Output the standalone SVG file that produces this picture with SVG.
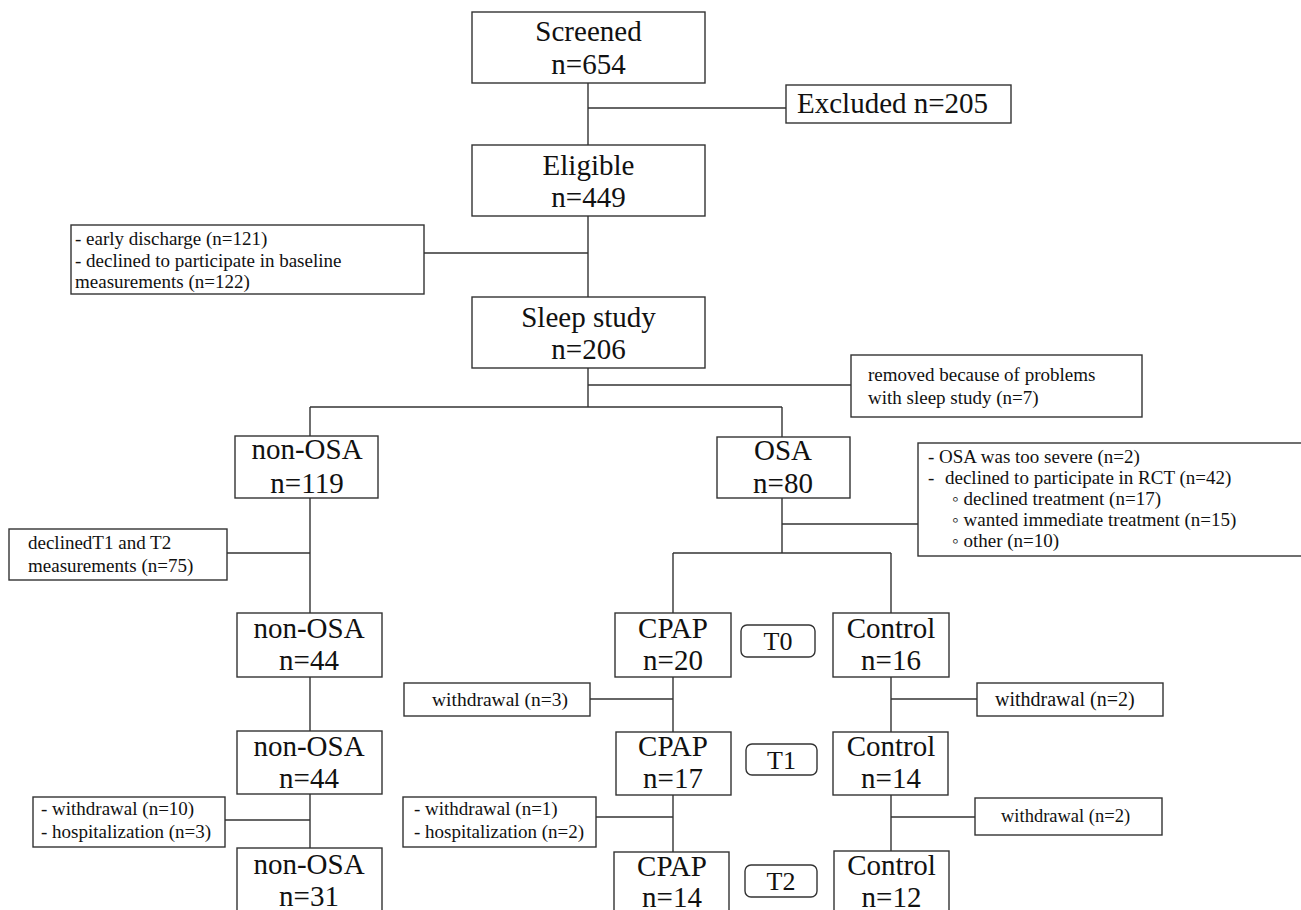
<svg xmlns="http://www.w3.org/2000/svg" width="1301" height="910" viewBox="0 0 1301 910">
<style>
rect{fill:#fff;stroke:#333;stroke-width:1.4}
.c line{stroke:#333;stroke-width:1.4}
.b{font-family:"Liberation Serif","Times New Roman",serif;font-size:29px;fill:#111;text-anchor:middle}
.s{font-family:"Liberation Serif","Times New Roman",serif;font-size:19px;fill:#111}
.t{font-family:"Liberation Serif","Times New Roman",serif;font-size:26px;fill:#111;text-anchor:middle}
</style>
<rect x="0" y="0" width="1301" height="910" style="stroke:none"/>
<g class="c" id="connectors">
<line x1="588" y1="83" x2="588" y2="145"/>
<line x1="588" y1="108" x2="786" y2="108"/>
<line x1="588" y1="216" x2="588" y2="297"/>
<line x1="424" y1="253" x2="588" y2="253"/>
<line x1="588" y1="368" x2="588" y2="407"/>
<line x1="588" y1="385" x2="851" y2="385"/>
<line x1="310" y1="407" x2="782" y2="407"/>
<line x1="310" y1="407" x2="310" y2="436"/>
<line x1="782" y1="407" x2="782" y2="437"/>
<line x1="782" y1="498" x2="782" y2="553"/>
<line x1="782" y1="524" x2="918" y2="524"/>
<line x1="673" y1="553" x2="891" y2="553"/>
<line x1="673" y1="553" x2="673" y2="613"/>
<line x1="891" y1="553" x2="891" y2="613"/>
<line x1="310" y1="498" x2="310" y2="613"/>
<line x1="227" y1="553" x2="310" y2="553"/>
<line x1="310" y1="677" x2="310" y2="731"/>
<line x1="310" y1="794" x2="310" y2="848"/>
<line x1="225" y1="820" x2="310" y2="820"/>
<line x1="673" y1="677" x2="673" y2="732"/>
<line x1="590" y1="699" x2="673" y2="699"/>
<line x1="891" y1="677" x2="891" y2="732"/>
<line x1="891" y1="699" x2="977" y2="699"/>
<line x1="673" y1="795" x2="673" y2="852"/>
<line x1="596" y1="817" x2="673" y2="817"/>
<line x1="891" y1="795" x2="891" y2="851"/>
<line x1="891" y1="817" x2="975" y2="817"/>
</g>
<g id="screened"><rect x="472" y="12" width="233" height="71"/><text class="b" x="588.5" y="41">Screened</text><text class="b" x="588.5" y="74">n=654</text></g>
<g id="excluded"><rect x="786" y="85" width="225" height="38"/><text class="b" x="797" y="113" style="text-anchor:start">Excluded n=205</text></g>
<g id="eligible"><rect x="472" y="145" width="233" height="71"/><text class="b" x="588.5" y="175">Eligible</text><text class="b" x="588.5" y="207">n=449</text></g>
<g id="excl2"><rect x="71" y="225" width="353" height="69"/><text class="s" x="75" y="245">- early discharge (n=121)</text><text class="s" x="75" y="267">- declined to participate in baseline</text><text class="s" x="75" y="288">measurements (n=122)</text></g>
<g id="sleep"><rect x="472" y="297" width="233" height="71"/><text class="b" x="588.5" y="327">Sleep study</text><text class="b" x="588.5" y="359">n=206</text></g>
<g id="removed"><rect x="851" y="355" width="291" height="62"/><text class="s" x="868" y="381">removed because of problems</text><text class="s" x="868" y="404">with sleep study (n=7)</text></g>
<g id="nonosa119"><rect x="235" y="436" width="143" height="62"/><text class="b" x="307" y="459">non-OSA</text><text class="b" x="307" y="493">n=119</text></g>
<g id="osa80"><rect x="717" y="437" width="133" height="61"/><text class="b" x="783" y="460">OSA</text><text class="b" x="783" y="493">n=80</text></g>
<g id="osaexcl"><rect x="918" y="443" width="400" height="113"/>
<text class="s" x="928" y="463">- OSA was too severe (n=2)</text>
<text class="s" x="928" y="484">-</text><text class="s" x="945" y="484">declined to participate in RCT (n=42)</text>
<text class="s" x="952" y="505">◦ declined treatment (n=17)</text>
<text class="s" x="952" y="526">◦ wanted immediate treatment (n=15)</text>
<text class="s" x="952" y="547">◦ other (n=10)</text></g>
<g id="declined75"><rect x="9" y="529" width="218" height="51"/><text class="s" x="28" y="549">declinedT1 and T2</text><text class="s" x="28" y="572">measurements (n=75)</text></g>
<g id="nonosa44a"><rect x="237" y="613" width="145" height="64"/><text class="b" x="309" y="638">non-OSA</text><text class="b" x="309" y="670">n=44</text></g>
<g id="nonosa44b"><rect x="237" y="731" width="145" height="63"/><text class="b" x="309" y="756">non-OSA</text><text class="b" x="309" y="788">n=44</text></g>
<g id="wd10"><rect x="33" y="797" width="192" height="50"/><text class="s" x="41" y="815">- withdrawal (n=10)</text><text class="s" x="41" y="838">- hospitalization (n=3)</text></g>
<g id="nonosa31"><rect x="237" y="848" width="145" height="72"/><text class="b" x="309" y="874">non-OSA</text><text class="b" x="309" y="906">n=31</text></g>
<g id="cpap20"><rect x="615" y="613" width="116" height="64"/><text class="b" x="673" y="638">CPAP</text><text class="b" x="673" y="670">n=20</text></g>
<g id="t0"><rect x="741" y="625" width="74" height="32" rx="6"/><text class="t" x="778" y="650">T0</text></g>
<g id="control16"><rect x="833" y="613" width="116" height="64"/><text class="b" x="891" y="638">Control</text><text class="b" x="891" y="670">n=16</text></g>
<g id="wd3"><rect x="404" y="683" width="186" height="33"/><text class="s" x="432" y="706" style="font-size:19.5px">withdrawal (n=3)</text></g>
<g id="wd2a"><rect x="977" y="683" width="186" height="33"/><text class="s" x="995" y="706" style="font-size:20px">withdrawal (n=2)</text></g>
<g id="cpap17"><rect x="616" y="732" width="115" height="63"/><text class="b" x="673" y="756">CPAP</text><text class="b" x="673" y="788">n=17</text></g>
<g id="t1"><rect x="746" y="744" width="71" height="31" rx="6"/><text class="t" x="781.5" y="769">T1</text></g>
<g id="control14"><rect x="833" y="732" width="115" height="63"/><text class="b" x="891" y="756">Control</text><text class="b" x="891" y="788">n=14</text></g>
<g id="wd1"><rect x="403" y="797" width="193" height="50"/><text class="s" x="414" y="815">- withdrawal (n=1)</text><text class="s" x="414" y="838">- hospitalization (n=2)</text></g>
<g id="wd2b"><rect x="975" y="798" width="187" height="37"/><text class="s" x="1001" y="822" style="font-size:18.5px">withdrawal (n=2)</text></g>
<g id="cpap14"><rect x="614" y="852" width="115" height="70"/><text class="b" x="672" y="876">CPAP</text><text class="b" x="672" y="907">n=14</text></g>
<g id="t2"><rect x="745" y="865" width="72" height="32" rx="6"/><text class="t" x="781" y="890">T2</text></g>
<g id="control12"><rect x="834" y="851" width="115" height="70"/><text class="b" x="891.5" y="875">Control</text><text class="b" x="891.5" y="907">n=12</text></g>
</svg>
